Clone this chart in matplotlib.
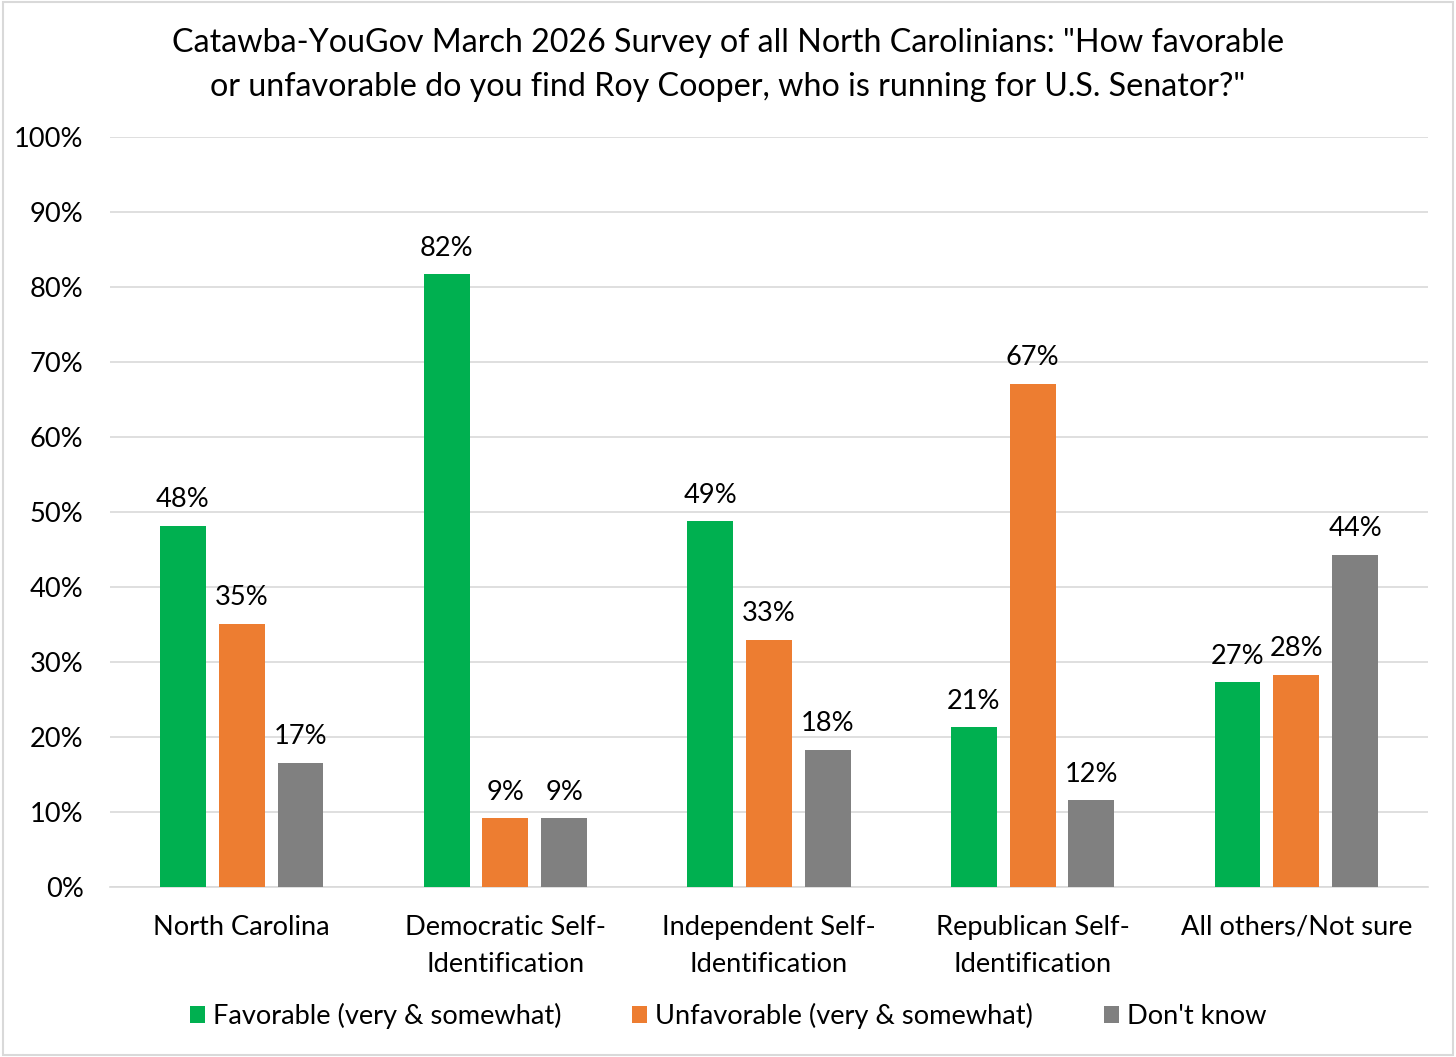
import numpy as np
import matplotlib
matplotlib.use("Agg")
import matplotlib.pyplot as plt
from matplotlib.patches import Rectangle

plt.rcParams['font.family'] = ['Lato', 'DejaVu Sans']

categories = ["North Carolina", "Democratic Self-\nIdentification", "Independent Self-\nIdentification",
              "Republican Self-\nIdentification", "All others/Not sure"]
favorable = [48.2, 81.7, 48.8, 21.3, 27.3]
unfavorable = [35.1, 9.2, 33.0, 67.1, 28.3]
dont_know = [16.6, 9.2, 18.3, 11.6, 44.3]
series_names = ["Favorable (very & somewhat)", "Unfavorable (very & somewhat)", "Don't know"]
colors = ["#00B050", "#ED7D31", "#808080"]

title = ('Catawba-YouGov March 2026 Survey of all North Carolinians: "How favorable\n'
         'or unfavorable do you find Roy Cooper, who is running for U.S. Senator?"')

fs = 19.6

fig = plt.figure(figsize=(14.56, 10.57), dpi=100)
ax = fig.add_axes([0.0755, 0.1608, 0.9053, 0.7096])

x = np.arange(len(categories))
width = 0.174
step = 0.223
for i, (vals, name, c) in enumerate(zip([favorable, unfavorable, dont_know], series_names, colors)):
    pos = x + (i - 1) * step
    bars = ax.bar(pos, vals, width, color=c, label=name, zorder=3)
    for b, v in zip(bars, vals):
        ax.text(b.get_x() + b.get_width() / 2, v + 1.8, f"{v:.0f}%", ha="center", va="bottom",
                fontsize=fs, color="black")

ax.set_xlim(-0.5, len(categories) - 0.5)
ax.set_ylim(0, 100)
ax.set_yticks(np.arange(0, 101, 10))
ax.set_yticklabels([f"{t}%" for t in range(0, 101, 10)], fontsize=fs)
ax.set_xticks(x)
ax.set_xticklabels(categories, fontsize=fs, linespacing=1.6)
ax.tick_params(axis="both", length=0)
ax.tick_params(axis="y", pad=19)
ax.tick_params(axis="x", pad=20)
ax.yaxis.grid(True, color="#D9D9D9", linewidth=1.2, zorder=0)
for s in ["top", "right", "left"]:
    ax.spines[s].set_visible(False)
ax.spines["bottom"].set_color("#D9D9D9")
ax.spines["bottom"].set_linewidth(1.2)

fig.text(0.5, 0.9385, title, ha="center", va="center", fontsize=23.2, linespacing=1.6)

fig.legend(loc="center", bbox_to_anchor=(0.5, 0.0388), ncol=3, frameon=False, fontsize=fs,
           handlelength=0.55, handleheight=0.55, handletextpad=0.3, columnspacing=2.6)

fig.patches.append(Rectangle((0.002, 0.002), 0.996, 0.996, transform=fig.transFigure,
                             fill=False, edgecolor="#D9D9D9", linewidth=1.5))

fig.savefig("out.png", dpi=100)
